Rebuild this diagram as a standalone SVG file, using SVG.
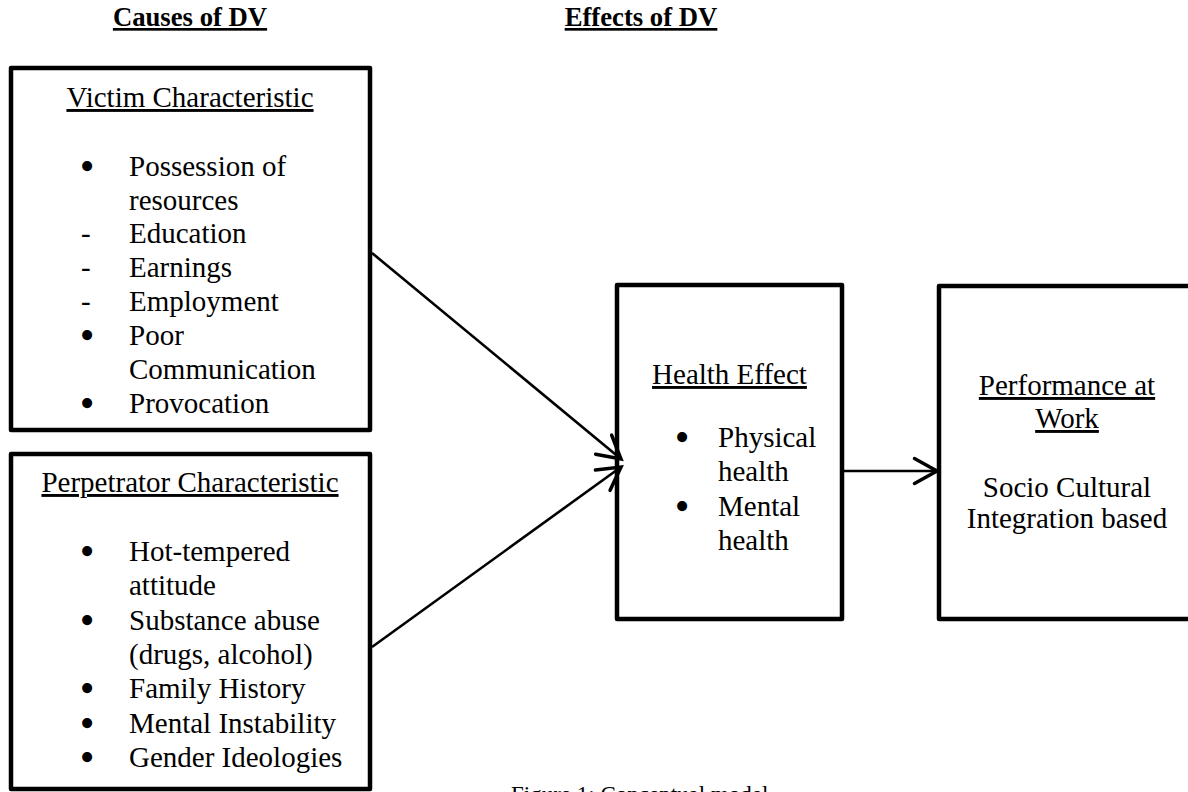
<svg xmlns="http://www.w3.org/2000/svg" width="1188" height="792" viewBox="0 0 1188 792">
<style>
text{font-family:"Liberation Serif","Times New Roman",serif;fill:#000}
.h{font-size:26.7px;font-weight:bold;text-decoration:underline}
.t{font-size:29px}
.b{font-size:42px;text-anchor:middle}
.u{text-decoration:underline}
.c{text-anchor:middle}
.box{fill:#fff;stroke:#000;stroke-width:4.5;stroke-linejoin:round}
.con{stroke:#000;stroke-width:2.6;fill:none;marker-end:url(#arr)}
</style>
<defs>
<marker id="arr" markerUnits="userSpaceOnUse" markerWidth="30" markerHeight="30" refX="20" refY="12" orient="auto" viewBox="0 0 24 24">
<path d="M2,2 L20,12 L2,22" fill="none" stroke="#000" stroke-width="2.8" stroke-linecap="round" stroke-linejoin="miter"/>
</marker>
</defs>
<rect width="1188" height="792" fill="#fff"/>
<g id="headings">
<text class="h c" x="190" y="26">Causes of DV</text>
<text class="h c" x="641" y="26">Effects of DV</text>
</g>
<g id="victim">
<rect class="box" x="11" y="68" width="359" height="362"/>
<text class="t u c" x="190" y="107">Victim Characteristic</text>
<g class="t">
<text class="b" x="87" y="180">•</text><text x="129" y="176">Possession of</text>
<text x="129" y="210">resources</text>
<text x="81" y="243">-</text><text x="129" y="243">Education</text>
<text x="81" y="277">-</text><text x="129" y="277">Earnings</text>
<text x="81" y="311">-</text><text x="129" y="311">Employment</text>
<text class="b" x="87" y="349">•</text><text x="129" y="345">Poor</text>
<text x="129" y="379">Communication</text>
<text class="b" x="87" y="417">•</text><text x="129" y="413">Provocation</text>
</g>
</g>
<g id="perpetrator">
<rect class="box" x="11" y="454" width="359" height="335"/>
<text class="t u c" x="190" y="492">Perpetrator Characteristic</text>
<g class="t">
<text class="b" x="87" y="565">•</text><text x="129" y="561">Hot-tempered</text>
<text x="129" y="595">attitude</text>
<text class="b" x="87" y="634">•</text><text x="129" y="630">Substance abuse</text>
<text x="129" y="664">(drugs, alcohol)</text>
<text class="b" x="87" y="702">•</text><text x="129" y="698">Family History</text>
<text class="b" x="87" y="737">•</text><text x="129" y="733">Mental Instability</text>
<text class="b" x="87" y="771">•</text><text x="129" y="767">Gender Ideologies</text>
</g>
</g>
<g id="health">
<rect class="box" x="617" y="285" width="225" height="334"/>
<text class="t u c" x="729.5" y="384">Health Effect</text>
<g class="t">
<text class="b" x="682" y="451">•</text><text x="718" y="447">Physical</text>
<text x="718" y="481">health</text>
<text class="b" x="682" y="520">•</text><text x="718" y="516">Mental</text>
<text x="718" y="550">health</text>
</g>
</g>
<g id="performance">
<rect class="box" x="939" y="286" width="260" height="333"/>
<text class="t u c" x="1067" y="395">Performance at</text>
<text class="t u c" x="1067" y="428">Work</text>
<text class="t c" x="1067" y="497">Socio Cultural</text>
<text class="t c" x="1067" y="528">Integration based</text>
</g>
<g id="connectors">
<line class="con" x1="372" y1="253" x2="621" y2="459"/>
<line class="con" x1="372" y1="647" x2="621" y2="467"/>
<line class="con" x1="844" y1="471" x2="937" y2="471"/>
</g>
<g id="caption">
<text x="511" y="802" font-size="23px" style="font-family:'Liberation Serif',serif">Figure 1: Conceptual model</text>
</g>
</svg>
